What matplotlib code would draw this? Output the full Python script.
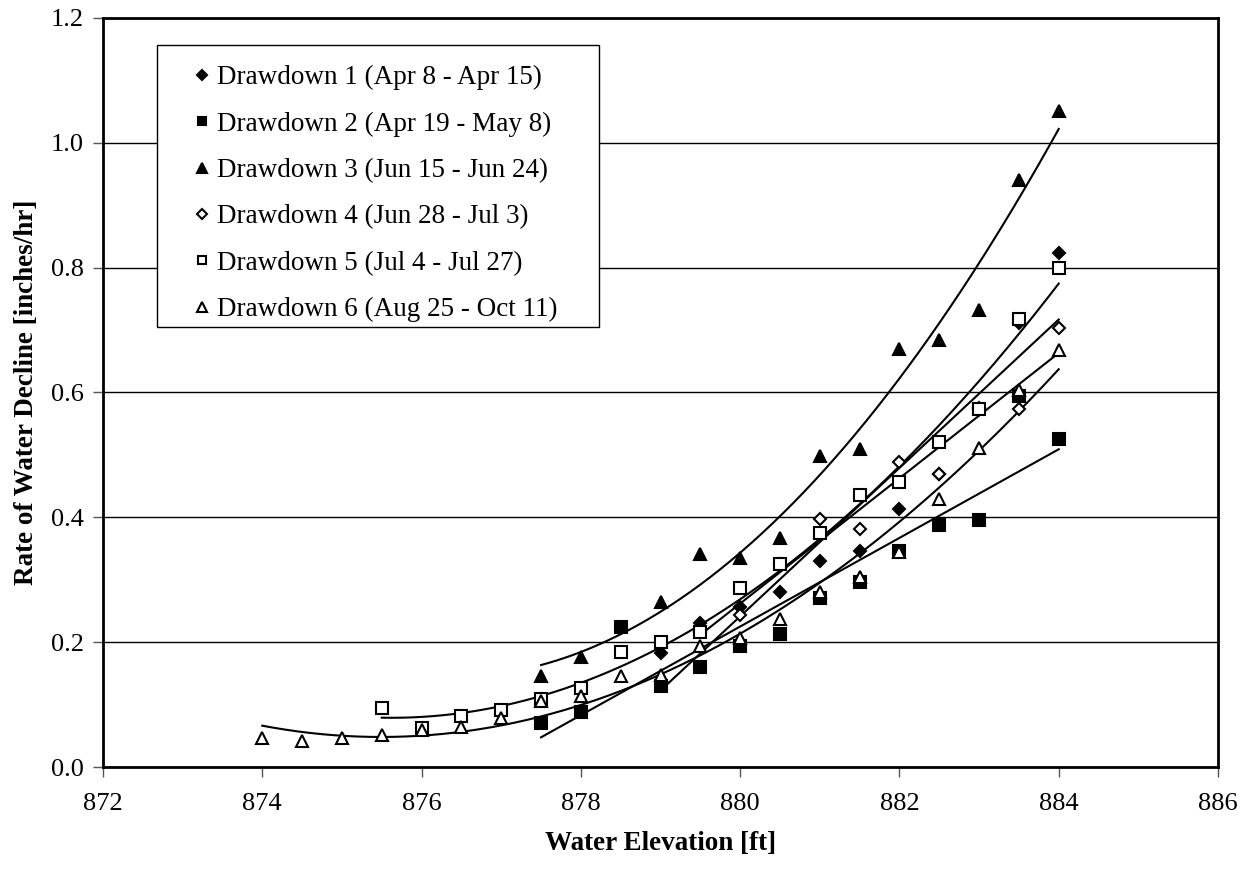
import numpy as np
import matplotlib
matplotlib.use("Agg")
import matplotlib.pyplot as plt
from matplotlib.patches import Rectangle

plt.rcParams['font.family'] = ['Liberation Serif', 'DejaVu Serif']

# drawdown 1 (filled diamond)
x1 = [879, 879.5, 880, 880.5, 881, 881.5, 882, 882.5, 883, 883.5, 884]
y1 = [0.182, 0.231, 0.257, 0.280, 0.330, 0.346, 0.413, 0.470, 0.574, 0.711, 0.823]
# drawdown 2 (filled square)
x2 = [877.5, 878, 878.5, 879, 879.5, 880, 880.5, 881, 881.5, 882, 882.5, 883, 883.5, 884]
y2 = [0.070, 0.088, 0.224, 0.130, 0.160, 0.194, 0.213, 0.270, 0.296, 0.346, 0.388, 0.396, 0.595, 0.526]
# drawdown 3 (filled triangle)
x3 = [877.5, 878, 879, 879.5, 880, 880.5, 881, 881.5, 882, 882.5, 883, 883.5, 884]
y3 = [0.146, 0.177, 0.265, 0.342, 0.335, 0.367, 0.498, 0.510, 0.670, 0.684, 0.732, 0.940, 1.051]
# drawdown 4 (open diamond)
x4 = [879.5, 880, 880.5, 881, 881.5, 882, 882.5, 883, 883.5, 884]
y4 = [0.216, 0.244, 0.325, 0.397, 0.381, 0.489, 0.470, 0.575, 0.574, 0.704]
# drawdown 5 (open square)
x5 = [875.5, 876, 876.5, 877, 877.5, 878, 878.5, 879, 879.5, 880, 880.5,
      881, 881.5, 882, 882.5, 883, 883.5, 884]
y5 = [0.095, 0.063, 0.081, 0.091, 0.109, 0.127, 0.184, 0.200, 0.216, 0.287, 0.325,
      0.375, 0.436, 0.457, 0.521, 0.574, 0.718, 0.800]
# drawdown 6 (open triangle)
x6 = [874, 874.5, 875, 875.5, 876, 876.5, 877, 877.5, 878, 878.5, 879, 879.5,
      880, 880.5, 881, 881.5, 882, 882.5, 883, 883.5, 884]
y6 = [0.046, 0.042, 0.047, 0.052, 0.060, 0.064, 0.078, 0.105, 0.113, 0.146, 0.148, 0.194,
      0.207, 0.237, 0.280, 0.304, 0.345, 0.430, 0.511, 0.604, 0.668]

labels = ["Drawdown 1 (Apr 8 - Apr 15)", "Drawdown 2 (Apr 19 - May 8)",
          "Drawdown 3 (Jun 15 - Jun 24)", "Drawdown 4 (Jun 28 - Jul 3)",
          "Drawdown 5 (Jul 4 - Jul 27)", "Drawdown 6 (Aug 25 - Oct 11)"]

# x, y, marker, face, size, trend degree
series = [
    (x1, y1, 'D', 'black', 6.5, 1),
    (x2, y2, 's', 'black', 8, 1),
    (x3, y3, '^', 'black', 9, 2),
    (x4, y4, 'D', 'white', 6.5, 1),
    (x5, y5, 's', 'white', 8, 2),
    (x6, y6, '^', 'white', 9, 2),
]

W, H = 1246, 871
fig = plt.figure(figsize=(W / 100, H / 100), dpi=100)
ax = fig.add_axes([103 / W, 1 - 767 / H, 1115 / W, 749 / H])

for (x, y, m, fc, ms, deg), lab in zip(series, labels):
    x = np.array(x)
    y = np.array(y)
    ax.plot(x, y, linestyle='none', marker=m, markersize=ms, markerfacecolor=fc,
            markeredgecolor='black', markeredgewidth=1.5, label=lab, zorder=3)
    c = np.polyfit(x, y, deg)
    xf = np.linspace(x.min(), x.max(), 200)
    ax.plot(xf, np.polyval(c, xf), color='black', linewidth=1.5, zorder=2)

ax.set_xlim(872, 886)
ax.set_ylim(0, 1.2)
ax.set_xticks(np.arange(872, 887, 2))
ax.set_yticks(np.arange(0, 1.21, 0.2))
ax.yaxis.set_major_formatter(matplotlib.ticker.FormatStrFormatter('%.1f'))
ax.grid(axis='y', color='black', linewidth=1)
ax.set_axisbelow(True)
for s in ax.spines.values():
    s.set_linewidth(2)
ax.tick_params(direction='out', length=7, width=1, color='#555555', labelsize=19)
ax.tick_params(axis='x', pad=12)
ax.tick_params(axis='y', pad=7)

ax.set_xlabel("Water Elevation [ft]", fontsize=19.5, fontweight='bold', labelpad=11)
ax.set_ylabel("Rate of Water Decline [inches/hr]", fontsize=19.5, fontweight='bold', labelpad=8)

# legend frame drawn as a plain box, entries placed inside it
box = Rectangle((157 / W, 1 - 327 / H), 442 / W, 282 / H, transform=fig.transFigure,
                facecolor='white', edgecolor='black', linewidth=1, zorder=4, clip_on=False)
ax.add_artist(box)
leg = ax.legend(loc='upper left', bbox_to_anchor=(191 / W, 1 - 65 / H),
                bbox_transform=fig.transFigure, fontsize=19.5,
                markerscale=0.75, frameon=False, handletextpad=0.15,
                handlelength=0.8, labelspacing=0.79, borderpad=0, borderaxespad=0)
leg.set_zorder(5)

fig.savefig("out.png", dpi=100)
